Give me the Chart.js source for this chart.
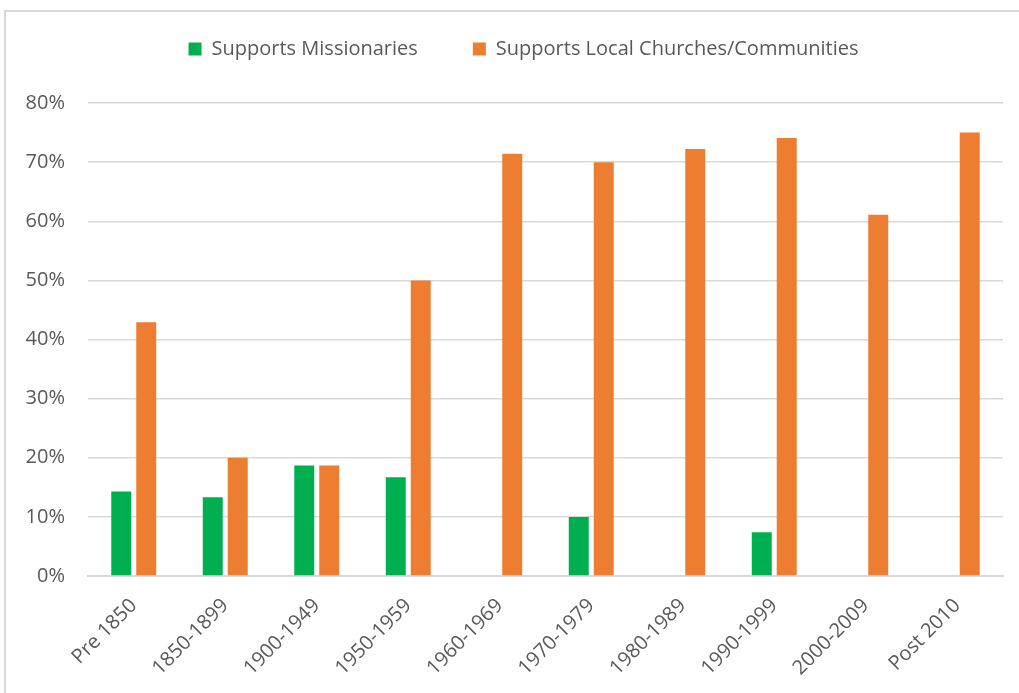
<!DOCTYPE html>
<html>
<head>
<meta charset="utf-8">
<script src="https://cdn.jsdelivr.net/npm/chart.js@4/dist/chart.umd.min.js"></script>
<style>
  html, body { margin: 0; padding: 0; background: #fff; }
  #marco { position: absolute; left: 4px; top: 10px; width: 1100px; height: 800px;
           border-top: 2px solid #d9d9d9; border-left: 2px solid #d9d9d9; }
  #lienzo { position: absolute; left: 0; top: 0; }
</style>
</head>
<body>
<div id="marco"></div>
<canvas id="lienzo" width="1019" height="693"></canvas>
<script>
// Categorías (décadas) y series
const periodos = ['Pre 1850', '1850-1899', '1900-1949', '1950-1959', '1960-1969',
                  '1970-1979', '1980-1989', '1990-1999', '2000-2009', 'Post 2010'];
const apoyaMisioneros = [0.143, 0.133, 0.187, 0.167, 0, 0.10, 0, 0.074, 0, 0];
const apoyaIglesiasLocales = [0.429, 0.20, 0.187, 0.50, 0.714, 0.70, 0.722, 0.741, 0.611, 0.75];
const marcasEje = [0, 0.1, 0.2, 0.3, 0.4, 0.5, 0.6, 0.7, 0.8];

const fuente = { family: "'Open Sans', sans-serif", size: 20 };
const gris = '#595959';

// Ajuste del alto y posición de la leyenda
const ajusteLeyenda = {
    id: 'ajusteLeyenda',
    beforeInit(chart) {
        const leyenda = chart.legend;
        const fitOriginal = leyenda.fit;
        leyenda.fit = function () {
            fitOriginal.bind(this)();
            this.height = 119;
        };
        const drawOriginal = leyenda.draw;
        leyenda.draw = function (...args) {
            chart.ctx.save();
            chart.ctx.translate(10, 0);
            drawOriginal.apply(this, args);
            chart.ctx.restore();
        };
    }
};

new Chart(document.getElementById('lienzo'), {
    type: 'bar',
    data: {
        labels: periodos,
        datasets: [{
            label: 'Supports Missionaries',
            data: apoyaMisioneros,
            backgroundColor: '#00B050',
            categoryPercentage: 0.546,
            barPercentage: 0.8
        }, {
            label: 'Supports Local Churches/Communities',
            data: apoyaIglesiasLocales,
            backgroundColor: '#ED7D31',
            categoryPercentage: 0.546,
            barPercentage: 0.8
        }]
    },
    options: {
        responsive: false,
        animation: false,
        layout: { padding: { left: 24, right: 16, top: -16, bottom: 0 } },
        plugins: {
            legend: {
                position: 'top',
                labels: {
                    font: fuente,
                    color: gris,
                    boxWidth: 13,
                    boxHeight: 13,
                    padding: 55
                }
            },
            tooltip: { enabled: false }
        },
        scales: {
            x: {
                grid: { display: false },
                border: { color: '#d9d9d9', width: 2 },
                ticks: { font: fuente, color: gris, minRotation: 45, maxRotation: 45, padding: 10 },
                afterFit(s) { s.height = 117; }
            },
            y: {
                min: 0,
                max: 0.8,
                afterBuildTicks(s) { s.ticks = marcasEje.map(v => ({ value: v })); },
                grid: { color: '#d9d9d9', lineWidth: 1.5, drawTicks: false },
                border: { display: false },
                ticks: {
                    font: fuente,
                    color: gris,
                    padding: 23,
                    callback: v => Math.round(v * 100) + '%'
                },
                afterFit(s) { s.width = 64; }
            }
        }
    },
    plugins: [ajusteLeyenda]
});
</script>
</body>
</html>
